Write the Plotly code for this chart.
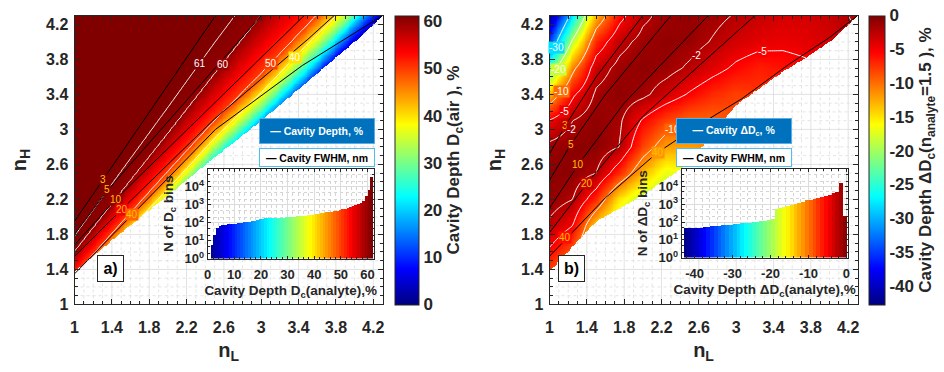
import numpy as np
import plotly.graph_objects as go

W, H = 944, 372
FONT = "Liberation Sans, Arial, sans-serif"
TXT = "#262626"
JET = [[0.0, "#000080"], [0.125, "#0000FF"], [0.375, "#00FFFF"],
       [0.625, "#FFFF00"], [0.875, "#FF0000"], [1.0, "#800000"]]

# ---------------- Panel a : Cavity depth D_c(air) ----------------
# n_H position (per n_L column) at which the depth reaches each level
a_cols_nL = [1.0, 1.5, 2.0, 2.5, 3.0, 3.5, 4.0, 4.3]
a_levels = [0, 10, 20, 30, 40, 50, 60, 61, 62]
a_lev0 = [0.85, 1.36, 1.80, 2.30, 2.80, 3.35, 3.90, 4.25]
a_lev10 = [0.95, 1.46, 1.93, 2.45, 2.95, 3.52, 4.08, 4.40]
a_lev20 = [1.05, 1.56, 2.05, 2.60, 3.12, 3.65, 4.22, 4.55]
a_lev30 = [1.15, 1.66, 2.17, 2.75, 3.25, 3.80, 4.33, 4.80]
a_lev40 = [1.25, 1.76, 2.32, 2.90, 3.42, 3.98, 4.50, 5.00]
a_lev50 = [1.33, 1.93, 2.52, 3.10, 3.64, 4.20, 4.75, 5.25]
a_lev60 = [1.60, 2.28, 2.95, 3.63, 4.30, 4.90, 5.40, 5.90]
a_lev61 = [1.78, 2.52, 3.25, 3.99, 4.70, 5.30, 5.80, 6.30]
a_lev62 = [2.30, 3.05, 3.75, 4.45, 5.15, 5.75, 6.25, 6.75]
# lower edge of the valid (coloured) region
a_bnd_nL = [1.0, 1.5, 2.0, 2.5, 3.0, 3.5, 4.0, 4.3]
a_bnd_nH = [1.38, 1.82, 2.25, 2.68, 3.10, 3.55, 4.00, 4.30]
# white depth-contour labels
a_dep_lab_nL = [2.34, 2.59, 3.10, 3.36]
a_dep_lab_nH = [3.75, 3.74, 3.75, 3.82]
a_dep_lab_txt = ["61", "60", "50", "40"]
# FWHM (black) iso-lines
a_fw3_nL, a_fw3_nH = [1.0, 2.51], [1.95, 4.3]
a_fw5_nL, a_fw5_nH = [1.0, 1.35, 3.0], [1.80, 2.30, 4.3]
a_fw10_nL, a_fw10_nH = [1.0, 1.44, 3.46], [1.68, 2.20, 4.3]
a_fw20_nL, a_fw20_nH = [1.0, 1.5, 2.5, 3.5, 3.78], [1.55, 2.08, 3.12, 4.03, 4.3]
a_fw40_nL, a_fw40_nH = [1.0, 1.34, 2.51, 3.44, 3.65, 4.3], [1.35, 1.72, 3.0, 3.73, 3.87, 4.3]
a_fw_lab_nL = [1.31, 1.35, 1.44, 1.51, 1.62]
a_fw_lab_nH = [2.43, 2.31, 2.20, 2.09, 2.03]
a_fw_lab_txt = ["3", "5", "10", "20", "40"]
# inset histogram a
a_hist_x = [i + 0.5 for i in range(1, 62)]
a_hist_n = [6, 21, 49, 65, 73,
            78, 82, 85, 88, 90,
            95, 100, 105, 110, 118, 125, 135, 145, 160, 175,
            178, 181, 184, 187, 190, 193, 196, 199, 202, 205,
            212, 220, 228, 236, 245, 255, 265, 278, 292, 310,
            325, 340, 360, 380, 400, 425, 450, 480, 520, 570,
            620, 680, 750, 850, 950, 1100, 1300, 1700, 3000, 7000, 34000]

# ---------------- Panel b : Delta D_c (n_analyte = 1.5) ----------------
b_cols_nL = [1.0, 1.25, 1.5, 1.75, 2.0, 2.25, 2.5, 2.75, 3.0, 3.25, 3.5, 3.75, 4.0, 4.3]
b_rows_nH = [1.3, 1.6, 1.9, 2.2, 2.5, 2.8, 3.1, 3.4, 3.7, 4.0, 4.3]
b_r130 = [-9, -13, -19, -21, -22, -22, -20, -17, -15, -12, -10, -8, -7, -6]
b_r160 = [-5.5, -9, -17, -21, -22, -22, -20, -17, -15, -12, -10, -8, -7, -6]
b_r190 = [-2.5, -5, -14, -19, -21, -22, -20, -17, -15, -12, -10, -8, -7, -6]
b_r220 = [-0.8, -2.0, -7, -15, -19, -20, -18, -16, -14, -12, -10, -8, -7, -6]
b_r250 = [-0.5, -0.6, -2, -7, -13, -17, -16, -14, -12, -11, -10, -8, -7, -6]
b_r280 = [-1.3, -0.5, -0.5, -2, -8, -12, -12, -11, -9.5, -9, -8, -7, -6.5, -6]
b_r310 = [-4.8, -2.0, -0.6, -1.6, -5.3, -8, -9.5, -9.5, -8.5, -7.5, -7, -6.5, -6, -5.5]
b_r340 = [-13, -5.5, -1.6, -0.6, -1.4, -3.3, -5.3, -7, -8, -7.5, -7, -6, -5, -4.5]
b_r370 = [-24, -11, -3.2, -1.3, -0.6, -1.1, -2.4, -4, -5.5, -6.5, -6, -5.5, -4.5, -3.5]
b_r400 = [-35, -19, -7, -2.8, -1.3, -0.7, -1.0, -2.2, -3.5, -4.2, -4.5, -4.2, -3.5, -2.5]
b_r430 = [-43, -28, -13, -6, -2.5, -1.3, -0.8, -1.3, -2.2, -3, -3.5, -3.5, -3, -1.5]
b_bnd_nL = [1.0, 1.5, 2.0, 2.5, 3.0, 3.5, 3.75, 4.0, 4.3]
b_bnd_nH = [1.38, 1.95, 2.25, 2.62, 3.28, 3.66, 3.82, 4.0, 4.3]
b_dep_lab_nL = [1.07, 1.10, 1.13, 1.16, 1.24, 2.32, 3.28, 2.57]
b_dep_lab_nH = [3.93, 3.68, 3.43, 3.20, 3.00, 3.00, 3.89, 3.85]
b_dep_lab_txt = ["-30", "-20", "-10", "-5", "-2", "-10", "-5", "-2"]
b_fw3_nL, b_fw3_nH = [1.0, 1.18, 1.5, 2.0], [2.72, 3.06, 3.6, 4.3]
b_fw5_nL, b_fw5_nH = [1.0, 1.23, 1.6, 2.3], [2.42, 2.83, 3.4, 4.3]
b_fw10_nL, b_fw10_nH = [1.0, 1.31, 1.8, 2.7], [2.1, 2.6, 3.3, 4.3]
b_fw20_nL, b_fw20_nH = [1.0, 1.4, 2.0, 3.2], [1.82, 2.38, 3.15, 4.3]
b_fw40_nL = [1.0, 1.22, 1.6, 2.15, 2.6, 3.06, 3.56, 4.0, 4.3]
b_fw40_nH = [1.55, 1.8, 2.22, 2.73, 3.05, 3.35, 3.74, 4.05, 4.3]
b_fw_lab_nL = [1.17, 1.23, 1.31, 1.40, 1.17, 2.16]
b_fw_lab_nH = [3.05, 2.83, 2.60, 2.38, 1.77, 2.74]
b_fw_lab_txt = ["3", "5", "10", "20", "40", "40"]
b_hist_x = [-42.5 + i for i in range(43)]
b_hist_n = [50, 50, 47, 45,
            48, 52, 55, 58, 62, 65, 68, 72, 75,
            80, 84, 88, 92, 96, 100, 105, 112, 120, 130, 145,
            550, 650, 750, 850, 950, 1100, 1250, 1450, 1700,
            1900, 2100, 2400, 2700, 3100, 3600, 4200, 5000,
            17000, 220]

A_MAX, B_MIN = 61.2, -42.8

# ---------------- build fields on a fine grid ----------------
nl = np.linspace(1.0, 4.3, 331)
nh = np.linspace(1.0, 4.3, 331)
a_rows = [a_lev0, a_lev10, a_lev20, a_lev30, a_lev40, a_lev50, a_lev60, a_lev61, a_lev62]
Za = np.empty((nh.size, nl.size))
for j, x in enumerate(nl):
    p = [np.interp(x, a_cols_nL, r) for r in a_rows]
    Za[:, j] = np.interp(nh, p, a_levels)

b_grid = np.array([b_r130, b_r160, b_r190, b_r220, b_r250, b_r280, b_r310,
                   b_r340, b_r370, b_r400, b_r430], dtype=float)
tmp = np.array([np.interp(nl, b_cols_nL, r) for r in b_grid])
Zb = np.array([np.interp(nh, b_rows_nH, tmp[:, j]) for j in range(nl.size)]).T

mask_a = nh[:, None] < np.interp(nl, a_bnd_nL, a_bnd_nH)[None, :]
mask_b = nh[:, None] < np.interp(nl, b_bnd_nL, b_bnd_nH)[None, :]


def px_x(v):
    return v / W


def px_y(v):
    return 1 - v / H


def hex2rgb(h):
    return [int(h[i:i + 2], 16) for i in (1, 3, 5)]


def jet_color(v, vmin, vmax):
    t = min(max((v - vmin) / (vmax - vmin), 0.0), 1.0)
    for (t0, c0), (t1, c1) in zip(JET[:-1], JET[1:]):
        if t <= t1:
            f = (t - t0) / (t1 - t0)
            a, b = hex2rgb(c0), hex2rgb(c1)
            return "rgb(%d,%d,%d)" % tuple(round(a[k] + f * (b[k] - a[k])) for k in range(3))
    return JET[-1][1]


fig = go.Figure()


def white_grid(bnd_nL, bnd_nH, xa, ya):
    vals = np.round(np.arange(1.1, 4.25, 0.1), 2)
    out = []
    for major in (False, True):
        xs, ys = [], []
        for v in vals:
            is_major = abs(((v - 1.0) / 0.4) - round((v - 1.0) / 0.4)) < 1e-6
            if is_major != major:
                continue
            top = float(np.interp(v, bnd_nL, bnd_nH))
            if top > 1.0:
                xs += [v, v, None]
                ys += [1.0, min(top, 4.3), None]
            left = float(np.interp(v, bnd_nH, bnd_nL))
            xs += [left, 4.3, None]
            ys += [v, v, None]
        out.append(go.Scatter(x=xs, y=ys, mode="lines", xaxis=xa, yaxis=ya,
                              line=dict(color="#dadada" if major else "#d2d2d2",
                                        width=0.8 if major else 0.6,
                                        dash="solid" if major else "dot"),
                              hoverinfo="skip", showlegend=False))
    return out


def labels(Z, zmin, zmax, xa, ya, lab, color):
    for x, y, t in zip(*lab):
        iy = int(np.argmin(np.abs(nh - y)))
        ix = int(np.argmin(np.abs(nl - x)))
        fig.add_annotation(x=x, y=y, xref=xa, yref=ya, text=t, showarrow=False,
                           bgcolor=jet_color(Z[iy, ix], zmin, zmax), borderpad=0,
                           font=dict(size=10, color=color, family=FONT))


def panel(Z, mask, zmin, zmax, xa, ya, cbar, levels, fw_lines, fw_lab, bnd, dep_lab):
    fig.add_trace(go.Heatmap(x=nl, y=nh, z=np.where(mask, np.nan, Z), colorscale=JET,
                             zmin=zmin, zmax=zmax, zsmooth=False, xaxis=xa, yaxis=ya,
                             colorbar=cbar, hoverinfo="skip"))
    for (s, e, d) in levels:
        fig.add_trace(go.Contour(x=nl[::2], y=nh[::2], z=Z[::2, ::2], xaxis=xa, yaxis=ya,
                                 showscale=False, hoverinfo="skip",
                                 contours=dict(coloring="none", start=s, end=e, size=d,
                                               showlabels=False),
                                 line=dict(color="white", width=1)))
    for (lx, ly) in fw_lines:
        fig.add_trace(go.Scatter(x=lx, y=ly, mode="lines", xaxis=xa, yaxis=ya,
                                 line=dict(color="black", width=1), hoverinfo="skip",
                                 showlegend=False))
    fig.add_trace(go.Heatmap(x=nl, y=nh, z=np.where(mask, 1.0, np.nan),
                             colorscale=[[0, "white"], [1, "white"]], showscale=False,
                             zsmooth=False, xaxis=xa, yaxis=ya, hoverinfo="skip"))
    for t in white_grid(bnd[0], bnd[1], xa, ya):
        fig.add_trace(t)
    labels(Z, zmin, zmax, xa, ya, fw_lab, "#FFC000")
    labels(Z, zmin, zmax, xa, ya, dep_lab, "white")


ymid = (px_y(312) + px_y(16)) / 2
cb_common = dict(y=ymid, yanchor="middle", len=296 / H, lenmode="fraction",
                 thicknessmode="pixels", outlinewidth=1, outlinecolor=TXT,
                 xanchor="left", xpad=0, ypad=0, ticks="",
                 tickfont=dict(size=17, family=FONT, color=TXT, weight="bold"))
cb_a = dict(cb_common, x=px_x(393), thickness=24, tickvals=[0, 10, 20, 30, 40, 50, 60],
            title=dict(text="Cavity Depth D<sub>c</sub>(air ), %", side="right",
                       font=dict(size=17, family=FONT, color=TXT, weight="bold")))
b_cb_vals = [0, -5, -10, -15, -20, -25, -30, -35, -40]
cb_b = dict(cb_common, x=px_x(871), thickness=16, tickvals=b_cb_vals,
            ticktext=[str(v) for v in b_cb_vals],
            title=dict(text="Cavity Depth \u0394D<sub>c</sub>(n<sub>analyte</sub>=1.5 ), %",
                       side="right", font=dict(size=17, family=FONT, color=TXT, weight="bold")))

panel(Za, mask_a, 0, A_MAX, "x", "y", cb_a,
      [(40, 60, 10), (61, 61, 1)],
      [(a_fw3_nL, a_fw3_nH), (a_fw5_nL, a_fw5_nH), (a_fw10_nL, a_fw10_nH),
       (a_fw20_nL, a_fw20_nH), (a_fw40_nL, a_fw40_nH)],
      (a_fw_lab_nL, a_fw_lab_nH, a_fw_lab_txt), (a_bnd_nL, a_bnd_nH),
      (a_dep_lab_nL, a_dep_lab_nH, a_dep_lab_txt))
panel(Zb, mask_b, B_MIN, 0, "x2", "y2", cb_b,
      [(-30, -10, 10), (-5, -5, 1), (-2, -2, 1)],
      [(b_fw3_nL, b_fw3_nH), (b_fw5_nL, b_fw5_nH), (b_fw10_nL, b_fw10_nH),
       (b_fw20_nL, b_fw20_nH), (b_fw40_nL, b_fw40_nH)],
      (b_fw_lab_nL, b_fw_lab_nH, b_fw_lab_txt), (b_bnd_nL, b_bnd_nH),
      (b_dep_lab_nL, b_dep_lab_nH, b_dep_lab_txt))

# inset histograms
fig.add_trace(go.Bar(x=a_hist_x, y=a_hist_n, width=1.0, xaxis="x3", yaxis="y3",
                     marker=dict(color=a_hist_x, colorscale=JET, cmin=0, cmax=A_MAX,
                                 line=dict(width=0)), hoverinfo="skip", showlegend=False))
fig.add_trace(go.Bar(x=b_hist_x, y=b_hist_n, width=1.0, xaxis="x4", yaxis="y4",
                     marker=dict(color=b_hist_x, colorscale=JET, cmin=B_MIN, cmax=0,
                                 line=dict(width=0)), hoverinfo="skip", showlegend=False))

tick_bold = dict(size=16, family=FONT, color=TXT, weight="bold")
title_bold = dict(size=20, family=FONT, color=TXT, weight="bold")


def main_x(dom, anchor):
    return dict(domain=dom, anchor=anchor, range=[1, 4.3], tickmode="linear", tick0=1, dtick=0.4,
                ticks="inside", ticklen=5, tickcolor=TXT, showline=True, linecolor=TXT,
                linewidth=1, mirror="ticks", showgrid=False, zeroline=False,
                layer="above traces", tickfont=tick_bold, ticklabelstandoff=8,
                minor=dict(ticks="inside", ticklen=3, dtick=0.1, tick0=1, tickcolor=TXT,
                           showgrid=False),
                title=dict(text="n<sub>L</sub>", font=title_bold, standoff=8))


def main_y(anchor):
    return dict(domain=[px_y(312), px_y(16)], anchor=anchor, range=[1, 4.3], tickmode="linear",
                tick0=1, dtick=0.4, ticks="inside", ticklen=5, tickcolor=TXT, showline=True,
                linecolor=TXT, linewidth=1, mirror="ticks", showgrid=False, zeroline=False,
                layer="above traces", tickfont=tick_bold, ticklabelstandoff=2,
                minor=dict(ticks="inside", ticklen=3, dtick=0.1, tick0=1, tickcolor=TXT,
                           showgrid=False),
                title=dict(text="n<sub>H</sub>", font=title_bold, standoff=14))


small_tick = dict(size=13, family=FONT, color=TXT, weight="bold")
small_title = dict(size=13.5, family=FONT, color=TXT, weight="bold")
log_vals = [1, 10, 100, 1000, 10000]
log_txt = ["10<sup>%d</sup>" % i for i in range(5)]


def inset_x(dom, anchor, rng, tick0, ticktext_vals, title):
    d = dict(domain=dom, anchor=anchor, range=rng, tickmode="array", tickvals=ticktext_vals,
             ticktext=[str(v) for v in ticktext_vals],
             ticks="inside", ticklen=3, tickcolor=TXT, showline=True, linecolor=TXT,
             linewidth=1, mirror="ticks", showgrid=True, gridcolor="#dcdcdc", zeroline=False,
             tickfont=small_tick, ticklabelstandoff=4,
             minor=dict(ticks="inside", ticklen=2, tickvals=[v for v in np.arange(tick0, rng[1], 2.0)
                                                             if rng[0] < v < rng[1]],
                        tickcolor=TXT, showgrid=True, gridcolor="#d4d4d4", griddash="dot"),
             title=dict(text=title, font=small_title, standoff=4))
    return d


def inset_y(dom, anchor):
    return dict(domain=dom, anchor=anchor, type="log", range=[0, 5], tickmode="array",
                tickvals=log_vals, ticktext=log_txt, ticks="inside", ticklen=3, tickcolor=TXT,
                showline=True, linecolor=TXT, linewidth=1, mirror="ticks", showgrid=True,
                gridcolor="#dcdcdc", zeroline=False, tickfont=small_tick,
                minor=dict(ticks="inside", ticklen=2, tickcolor=TXT, showgrid=True,
                           gridcolor="#d4d4d4", griddash="dot"),
                title=dict(text="N of D<sub>c</sub> bins" if anchor == "x3"
                           else "N of \u0394D<sub>c</sub> bins", font=small_title, standoff=7))


fig.update_layout(
    width=W, height=H, margin=dict(l=0, r=0, t=0, b=0),
    paper_bgcolor="white", plot_bgcolor="white", showlegend=False,
    font=dict(family=FONT, color=TXT),
    xaxis=main_x([px_x(71), px_x(381)], "y"),
    yaxis=main_y("x"),
    xaxis2=main_x([px_x(549), px_x(859)], "y2"),
    yaxis2=main_y("x2"),
    xaxis3=inset_x([px_x(205), px_x(372)], "y3", [0, 62.3], 0, [0, 10, 20, 30, 40, 50, 60],
                   "Cavity Depth D<sub>c</sub>(analyte),%"),
    yaxis3=inset_y([px_y(265), px_y(173)], "x3"),
    xaxis4=inset_x([px_x(682), px_x(849)], "y4", [-43.4, 0.3], -42, [-40, -30, -20, -10, 0],
                   "Cavity Depth \u0394D<sub>c</sub>(analyte),%"),
    yaxis4=inset_y([px_y(264), px_y(173)], "x4"),
    bargap=0,
)


def box(text, xc, yc, w, h, bg, border, color, size=10.5):
    fig.add_annotation(x=px_x(xc), y=px_y(yc), xref="paper", yref="paper", text=text,
                       showarrow=False, width=w, height=h, bgcolor=bg, bordercolor=border,
                       borderwidth=1, borderpad=0, align="center", valign="middle",
                       font=dict(size=size, family=FONT, color=color, weight="bold"))


box("\u2014 Cavity Depth, %", 315, 134, 114, 24, "#0072BD", "#5AAEE8", "white")
box("\u2014 Cavity FWHM, nm", 315, 161.5, 114, 17, "white", "#4DBEEE", "black")
box("\u2014 Cavity \u0394D<sub>c</sub>, %", 793, 134, 114, 24, "#0072BD", "#5AAEE8", "white")
box("\u2014 Cavity FWHM, nm", 793, 161.5, 114, 17, "white", "#4DBEEE", "black")
box("a)", 93.5, 289.5, 25, 25, "white", TXT, "black", size=16)
box("b)", 571, 289.5, 25, 25, "white", TXT, "black", size=16)

fig.write_html("out.html")
